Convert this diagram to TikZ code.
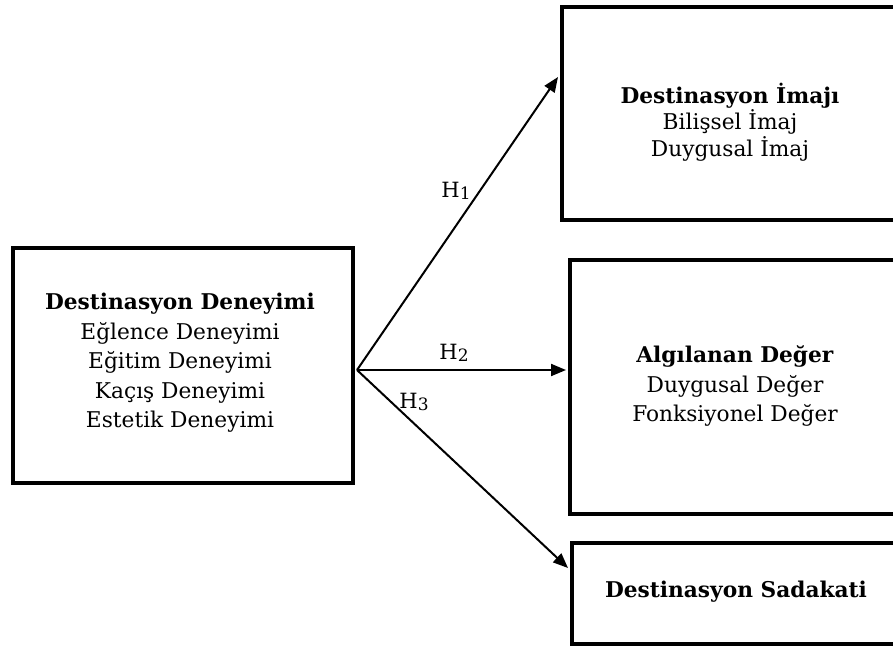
\documentclass[tikz,border=0pt]{standalone}
\usepackage{fontspec}
\setmainfont{DejaVu Serif}
\usetikzlibrary{arrows.meta,calc}
\newcommand{\hsub}[1]{H{\fontsize{17}{17}\selectfont\raisebox{-1.5pt}{#1}}}
\begin{document}
\begin{tikzpicture}[x=1pt,y=-1pt,
  boxnode/.style={draw, line width=4pt, inner sep=0pt, anchor=north west},
  arr/.style={line width=2pt, -{Triangle[length=15pt,width=12pt]}},
  txt/.style={align=center, font=\fontsize{21.7}{29.5}\selectfont, inner sep=0pt},
  txttop/.style={align=center, font=\fontsize{21.7}{26.5}\selectfont, inner sep=0pt},
  hlab/.style={font=\fontsize{21}{21}\selectfont, inner sep=0pt}]
\useasboundingbox (0,0) rectangle (893,650);
\begin{scope}
\clip (0,0) rectangle (893,650);
\node[boxnode, minimum width=340pt, minimum height=235pt] (lbox) at (11,246) {};
\node[boxnode, minimum width=342pt, minimum height=213pt] (tbox) at (560,5) {};
\node[boxnode, minimum width=334pt, minimum height=254pt] (mbox) at (568,258) {};
\node[boxnode, minimum width=332pt, minimum height=101pt] (bbox) at (570,541) {};

\node[txt] (ltext) at (180,363) {\textbf{Destinasyon Deneyimi}\\Eğlence Deneyimi\\Eğitim Deneyimi\\Kaçış Deneyimi\\Estetik Deneyimi};
\node[txttop] (ttext) at (730,122) {\textbf{Destinasyon İmajı}\\Bilişsel İmaj\\Duygusal İmaj};
\node[txt] (mtext) at (735,386) {\textbf{Algılanan Değer}\\Duygusal Değer\\Fonksiyonel Değer};
\node[txt] (btext) at (736,592) {\textbf{Destinasyon Sadakati}};

\coordinate (o) at ($(lbox.north east)+(2,124)$);
\coordinate (e1) at ($(tbox.north west)+(-2,72)$);
\coordinate (e2) at ($(mbox.north west)+(-2,112)$);
\coordinate (e3) at ($(bbox.north west)+(-2,27)$);
\draw[arr] (o) -- (e1);
\draw[arr] (o) -- (e2);
\draw[arr] (o) -- (e3);

\node[hlab] (h1) at (456,191) {\hsub{1}};
\node[hlab] (h2) at (454,353) {\hsub{2}};
\node[hlab] (h3) at (414,402) {\hsub{3}};
\end{scope}
\end{tikzpicture}
\end{document}
